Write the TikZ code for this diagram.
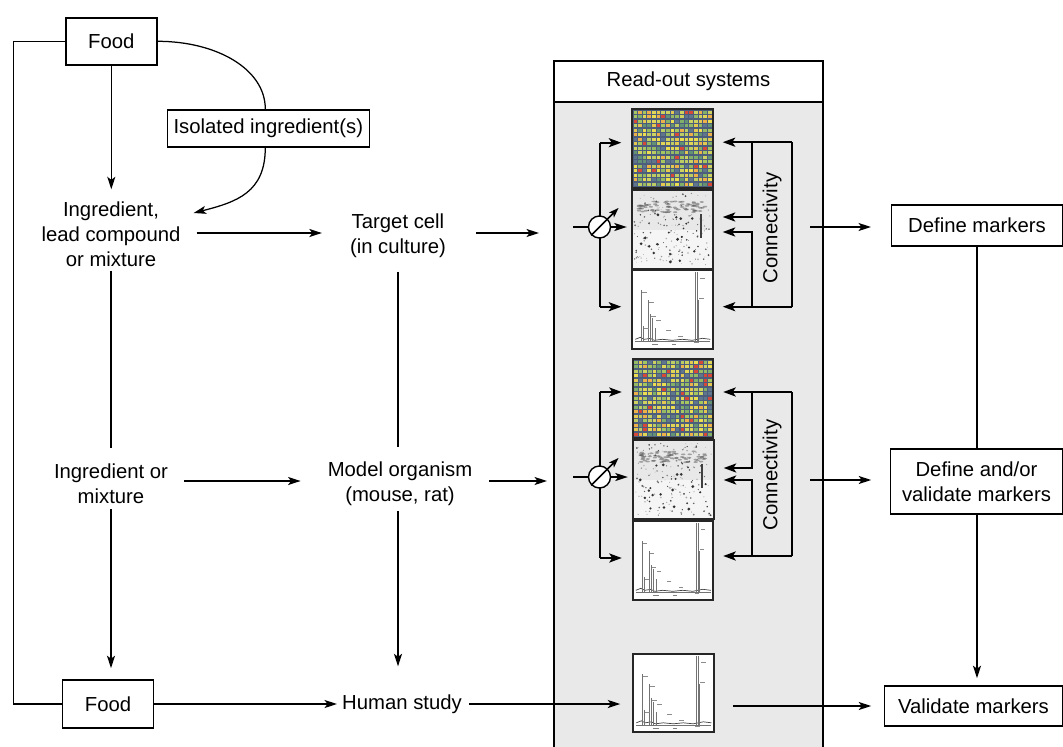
\documentclass[tikz,border=0pt]{standalone}
\usepackage{fontspec}
\setmainfont{Liberation Sans}
\usetikzlibrary{arrows.meta,calc}
\definecolor{panelgray}{RGB}{233,233,233}
\definecolor{hmbg}{RGB}{76,94,124}
\definecolor{hmc1}{RGB}{236,222,78}
\definecolor{hmc2}{RGB}{226,214,86}
\definecolor{hmc3}{RGB}{206,210,96}
\definecolor{hmc4}{RGB}{166,198,96}
\definecolor{hmc5}{RGB}{130,176,104}
\definecolor{hmc6}{RGB}{100,146,116}
\definecolor{hmc7}{RGB}{238,176,72}
\definecolor{hmc8}{RGB}{96,118,140}
\definecolor{hmc9}{RGB}{190,204,100}
\definecolor{hmc10}{RGB}{150,186,100}
\definecolor{hmc11}{RGB}{228,200,80}
\definecolor{hmc12}{RGB}{216,72,56}

\newcommand\drawheat[2]{%
 \pgfmathsetseed{#2}%
 \begin{scope}[shift={(#1.north west)}]
  \fill[hmbg] (0,0) rectangle (80,78);
  \foreach \i in {0,...,16}{\foreach \j in {0,...,16}{%
    \pgfmathrandominteger{\rc}{1}{12}%
    \fill[hmc\rc] ({1.2+\i*4.65},{1.2+\j*4.5}) rectangle ++(3.6,3.4);}}
 \end{scope}
 \draw[imgborder] (#1.north west) rectangle (#1.south east);}

\newcommand\drawgel[2]{%
 \pgfmathsetseed{#2}%
 \begin{scope}[shift={(#1.north west)}]
  \fill[black!9] (0,0) rectangle (80,78);
  \fill[black!4] (0,40) rectangle (80,78);
  \foreach \k in {1,...,70}{%
    \pgfmathsetmacro\px{6+rnd*68}\pgfmathsetmacro\py{11+rnd*11}%
    \fill[black!70,opacity=.45] (\px,\py) ellipse [x radius=2.2, y radius=0.9];}
  \foreach \k in {1,...,160}{%
    \pgfmathsetmacro\px{2+rnd*76}\pgfmathsetmacro\py{3+rnd*72}\pgfmathsetmacro\pr{0.3+rnd*0.7}\pgfmathsetmacro\pg{25+rnd*55}%
    \fill[black!\pg] (\px,\py) circle [radius=\pr];}
  \foreach \k in {1,...,25}{%
    \pgfmathsetmacro\px{4+rnd*70}\pgfmathsetmacro\py{24+rnd*48}\pgfmathsetmacro\pr{0.8+rnd*0.8}%
    \fill[black!80] (\px,\py) circle [radius=\pr];}
  \fill[black!75] (68,24) rectangle (69.8,48);
 \end{scope}
 \draw[imgborder] (#1.north west) rectangle (#1.south east);}

\newcommand\drawspec[1]{%
 \begin{scope}[shift={(#1.north west)}]
  \fill[white] (0,0) rectangle (80,78);
  \draw[black!55,line width=.5pt] (3,71) -- (78,71);
  \draw[black!75,line width=.7pt] (3,69) -- (8,67) -- (12,69) -- (18,68) -- (22,70) -- (30,69) -- (40,70) -- (50,69) -- (60,70) -- (70,68) -- (78,69);
  \foreach \xx/\yy in {9/20, 11/56, 16/30, 18/44, 20/48, 23/58, 63/2, 65/2, 66/30}{\draw[black!55,line width=.5pt] (\xx,\yy) -- (\xx,71);}
  \foreach \xx/\yy in {10/22, 17/32, 19/46, 24/50, 34/60, 46/66, 67/28, 68/8, 12/58, 62/72}{\fill[black!45] (\xx,\yy) rectangle ++(4.5,1.1);}
  \draw[black!50,line width=.4pt] (20,74) -- (26,74) (40,74) -- (44,74);
 \end{scope}
 \draw[imgborder] (#1.north west) rectangle (#1.south east);}

\begin{document}
\begin{tikzpicture}[x=1pt,y=-1pt,
  font=\fontsize{20.3}{25}\selectfont,
  arr/.style={-{Stealth[length=12.5pt,width=8pt,inset=3pt]}},
  arrb/.style={-{Stealth[length=12.5pt,width=9pt,inset=3pt]}},
  arrs/.style={-{Stealth[length=10pt,width=7pt,inset=2.5pt]}},
  conn/.style={line width=1.5pt},
  thinconn/.style={line width=1.25pt},
  brk/.style={line width=2.3pt},
  box/.style={draw,line width=1.6pt,inner sep=0pt,align=center},
  rbox/.style={draw,line width=1.6pt,inner sep=0pt,align=center},
  txt/.style={inner sep=0pt,align=center},
  thumb/.style={inner sep=0pt,minimum width=80pt,minimum height=78pt},
  imgborder/.style={line width=1.8pt,black!85},
  meter/.style={circle,draw,fill=white,line width=1.4pt,minimum size=22pt,inner sep=0pt}]
\fill[white] (0,0) rectangle (1063,747);
\useasboundingbox (0,0) rectangle (1063,747);

% read-out panel
\node[draw,line width=2pt,fill=panelgray,minimum width=269pt,minimum height=699pt,inner sep=0pt] (panel) at (688.5,410.5) {};
\node[draw,line width=2pt,fill=white,minimum width=269pt,minimum height=41pt,inner sep=0pt] (hdr) at (688.5,81.5) {Read-out systems};

% thumbnails
\node[thumb] (hm1) at (672.5,148.5) {};
\node[thumb] (gel1) at (672.5,229.5) {};
\node[thumb] (sp1) at (672.5,309.5) {};
\node[thumb] (hm2) at (673,398.5) {};
\node[thumb] (gel2) at (673.5,479.5) {};
\node[thumb] (sp2) at (673,560.5) {};
\node[thumb] (sp3) at (673.5,693) {};
\drawheat{hm1}{11}
\drawgel{gel1}{23}
\drawspec{sp1}
\drawheat{hm2}{37}
\drawgel{gel2}{41}
\drawspec{sp2}
\drawspec{sp3}

% left column nodes
\node[box,minimum width=91pt,minimum height=47pt] (food1) at (111.3,41.3) {Food};
\node[box,minimum width=202pt,minimum height=37pt] (iso) at (268.3,128.3) {Isolated ingredient(s)};
\node[txt] (ing1) at (111,234) {Ingredient,\\lead compound\\or mixture};
\node[txt] (tc) at (398,235.5) {Target cell\\(in culture)};
\node[txt] (ing2) at (111,484) {Ingredient or\\mixture};
\node[txt] (mo) at (400,484) {Model organism\\(mouse, rat)};
\node[box,minimum width=91pt,minimum height=48pt] (food2) at (108,704) {Food};
\node[txt] (hs) at (402,704) {Human study};

% right column nodes
\node[rbox,minimum width=171pt,minimum height=41pt] (dm) at (977,225.5) {Define markers};
\node[rbox,minimum width=172pt,minimum height=65pt] (dv) at (976.5,481.5) {Define and/or\\validate markers};
\node[rbox,minimum width=178pt,minimum height=40pt] (vm) at (973.5,706) {Validate markers};

% left connectors
\coordinate (lx) at (13.5,0);
\draw[thinconn] (food1.west) -- (food1.west -| lx) -- (food2.west -| lx) -- (food2.west);
\draw[conn,arr,shorten >=12pt] (food1.south) -- (food1.south |- ing1.north);
\draw[thinconn] (food1.east) .. controls +(59,0) and +(0,-40) .. ([xshift=-3pt]iso.north);
\draw[thinconn,arr] ([xshift=-3pt]iso.south) .. controls +(0,45) and +(43,-11) .. ([xshift=13pt,yshift=21pt]ing1.east);
\draw[conn,arr,shorten <=16pt,shorten >=28pt] ([yshift=1pt]ing1.east) -- ([yshift=1pt]ing1.east -| tc.west);
\draw[conn,arr,shorten <=30pt,shorten >=14pt] ([yshift=2.5pt]tc.east) -- ([yshift=2.5pt]tc.east -| panel.west);
\draw[conn,shorten <=4pt,shorten >=16pt] (ing1.south) -- (ing1.south |- ing2.north);
\draw[conn,shorten <=14pt,shorten >=15pt] (tc.south) -- (tc.south |- mo.north);
\draw[conn,arr,shorten <=16pt,shorten >=27pt] ([yshift=3pt]ing2.east) -- ([yshift=3pt]ing2.east -| mo.west);
\draw[conn,arr,shorten <=17pt,shorten >=6pt] ([yshift=3pt]mo.east) -- ([yshift=3pt]mo.east -| panel.west);
\draw[conn,arr,shorten <=5pt,shorten >=11pt] (ing2.south) -- (ing2.south |- food2.north);
\draw[conn,arr,shorten <=5pt,shorten >=28pt] (mo.south -| tc.south) -- (tc.south |- hs.north);
\draw[conn,arr,shorten >=5pt] (food2.east) -- (hs.west);
\draw[conn,arr,shorten <=7pt,shorten >=13pt] (hs.east) -- (hs.east -| sp3.west);

% set 1 bracket (left)
\coordinate (bt1) at (600,142.7);
\coordinate (bb1) at (600,306.7);
\coordinate (in1) at (573,227);
\draw[brk] (bt1) -- (bb1);
\draw[brk,arrb,shorten >=11pt] (bt1) -- (bt1 -| hm1.west);
\draw[brk,arrb,shorten >=11pt] (bb1) -- (bb1 -| sp1.west);
\node[meter] (m1) at (599.5,227) {};
\draw[conn] (in1) -- (m1.west);
\draw[conn,arr,shorten >=5.5pt] (m1.east) -- (m1.east -| gel1.west);
\draw[conn,arrs] (m1.225) -- ($(m1.center)!2.3!(m1.45)$);

% set 1 connectivity (right)
\coordinate (ot1) at (792,142.2);
\coordinate (ob1) at (792,306.7);
\coordinate (it1) at (752,142.2);
\coordinate (iu1) at (752,217);
\coordinate (il1) at (752,232);
\coordinate (ib1) at (752,306.7);
\draw[brk] (ot1) -- (ob1);
\draw[brk,arrb,shorten >=10pt] (ot1) -- (ot1 -| hm1.east);
\draw[brk,arrb,shorten >=10pt] (ob1) -- (ob1 -| sp1.east);
\draw[brk,arrb,shorten >=10pt] (it1) -- (iu1) -- (iu1 -| gel1.east);
\draw[brk,arrb,shorten >=10pt] (ib1) -- (il1) -- (il1 -| gel1.east);
\node[rotate=90,inner sep=0pt] (cv1) at (772,228) {Connectivity};
\coordinate (co1) at (810,227);
\draw[conn,arr,shorten >=19.7pt] (co1) -- (co1 -| dm.west);

% set 2 bracket (left)
\coordinate (bt2) at (600,392);
\coordinate (bb2) at (600,558);
\coordinate (in2) at (573,477);
\draw[brk] (bt2) -- (bb2);
\draw[brk,arrb,shorten >=11pt] (bt2) -- (bt2 -| hm2.west);
\draw[brk,arrb,shorten >=11pt] (bb2) -- (bb2 -| sp2.west);
\node[meter] (m2) at (599.5,477) {};
\draw[conn] (in2) -- (m2.west);
\draw[conn,arr,shorten >=5.5pt] (m2.east) -- (m2.east -| gel2.west);
\draw[conn,arrs] (m2.225) -- ($(m2.center)!2.3!(m2.45)$);

% set 2 connectivity (right)
\coordinate (ot2) at (792,392);
\coordinate (ob2) at (792,556);
\coordinate (it2) at (752,392);
\coordinate (iu2) at (752,468);
\coordinate (il2) at (752,480);
\coordinate (ib2) at (752,556);
\draw[brk] (ot2) -- (ob2);
\draw[brk,arrb,shorten >=10pt] (ot2) -- (ot2 -| hm2.east);
\draw[brk,arrb,shorten >=10pt] (ob2) -- (ob2 -| sp2.east);
\draw[brk,arrb,shorten >=10pt] (it2) -- (iu2) -- (iu2 -| gel2.east);
\draw[brk,arrb,shorten >=10pt] (ib2) -- (il2) -- (il2 -| gel2.east);
\node[rotate=90,inner sep=0pt] (cv2) at (772,475) {Connectivity};
\coordinate (co2) at (810,480);
\draw[conn,arr,shorten >=18.5pt] (co2) -- (co2 -| dv.west);

% set 3 output
\coordinate (co3) at (733,706);
\draw[conn,arr,shorten >=12.5pt] (co3) -- (co3 -| vm.west);

% right column connectors
\draw[conn] (dm.south) -- (dm.south |- dv.north);
\draw[conn,arr,shorten >=7pt] (dv.south -| dm.south) -- (dm.south |- vm.north);
\end{tikzpicture}
\end{document}
